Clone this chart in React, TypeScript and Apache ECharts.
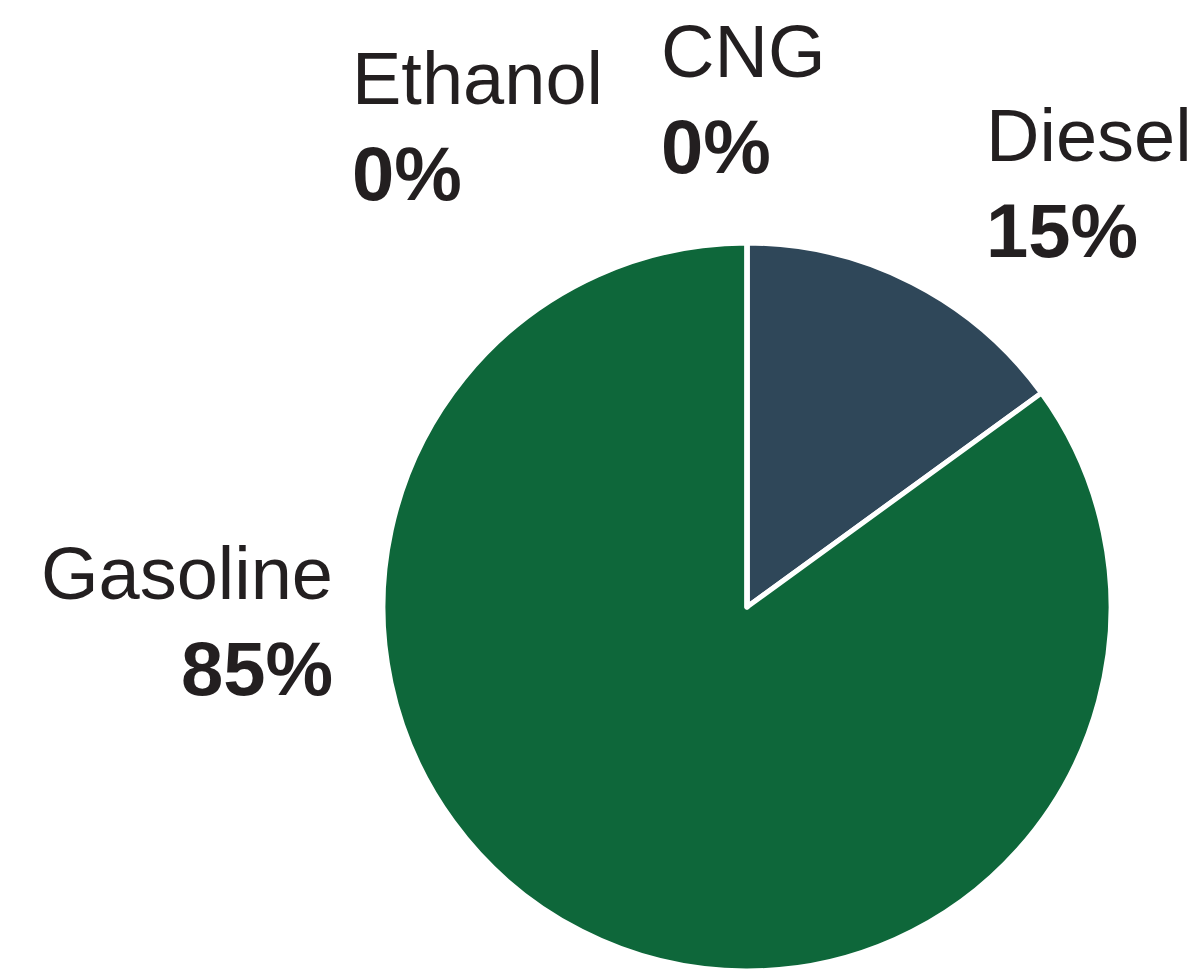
import React, { useEffect, useRef } from "react";
import * as echarts from "echarts";

const categories = ["Diesel", "Gasoline", "Ethanol", "CNG"];
const values = [15, 85, 0, 0];
const percentLabels = ["15%", "85%", "0%", "0%"];
const colors = ["#2f4759", "#0e673a", "#8a9a5b", "#6b8e9f"];

// label anchor positions (layout only)
const labelPos: Record<string, { x: number; y: number; align: string }> = {
  Diesel: { x: 986, y: 162, align: "left" },
  Gasoline: { x: 333, y: 600, align: "right" },
  Ethanol: { x: 352, y: 105, align: "left" },
  CNG: { x: 661, y: 78, align: "left" },
};

const FS_NAME = 74;
const FS_PCT = 76;
const FONT = "'Liberation Sans', Arial, Helvetica, sans-serif";
const TEXT_COLOR = "#231f20";

export default function App() {
  const ref = useRef<HTMLDivElement>(null);
  useEffect(() => {
    if (!ref.current) return;
    const chart = echarts.init(ref.current, undefined, { renderer: "svg" });
    const graphics: any[] = [];
    categories.forEach((c, i) => {
      const p = labelPos[c];
      graphics.push({
        type: "text",
        x: p.x,
        y: p.y - 0.36 * FS_NAME,
        style: {
          text: c,
          fontSize: FS_NAME,
          fontFamily: FONT,
          fontWeight: "normal",
          fill: TEXT_COLOR,
          align: p.align,
          verticalAlign: "middle",
        },
      });
      graphics.push({
        type: "text",
        x: p.x,
        y: p.y + 96 - 0.36 * FS_PCT,
        style: {
          text: percentLabels[i],
          fontSize: FS_PCT,
          fontFamily: FONT,
          fontWeight: "bold",
          fill: TEXT_COLOR,
          align: p.align,
          verticalAlign: "middle",
        },
      });
    });
    chart.setOption({
      animation: false,
      backgroundColor: "#ffffff",
      graphic: graphics,
      series: [
        {
          type: "pie",
          center: [747, 607],
          radius: 364,
          startAngle: 90,
          clockwise: true,
          label: { show: false },
          labelLine: { show: false },
          itemStyle: { borderColor: "#ffffff", borderWidth: 5 },
          emphasis: { disabled: true },
          data: categories.map((c, i) => ({
            name: c,
            value: values[i],
            itemStyle: { color: colors[i] },
          })),
        },
      ],
    });
    return () => chart.dispose();
  }, []);
  return (
    <div
      ref={ref}
      style={{ position: "fixed", left: 0, top: 0, width: 1196, height: 973 }}
    />
  );
}
